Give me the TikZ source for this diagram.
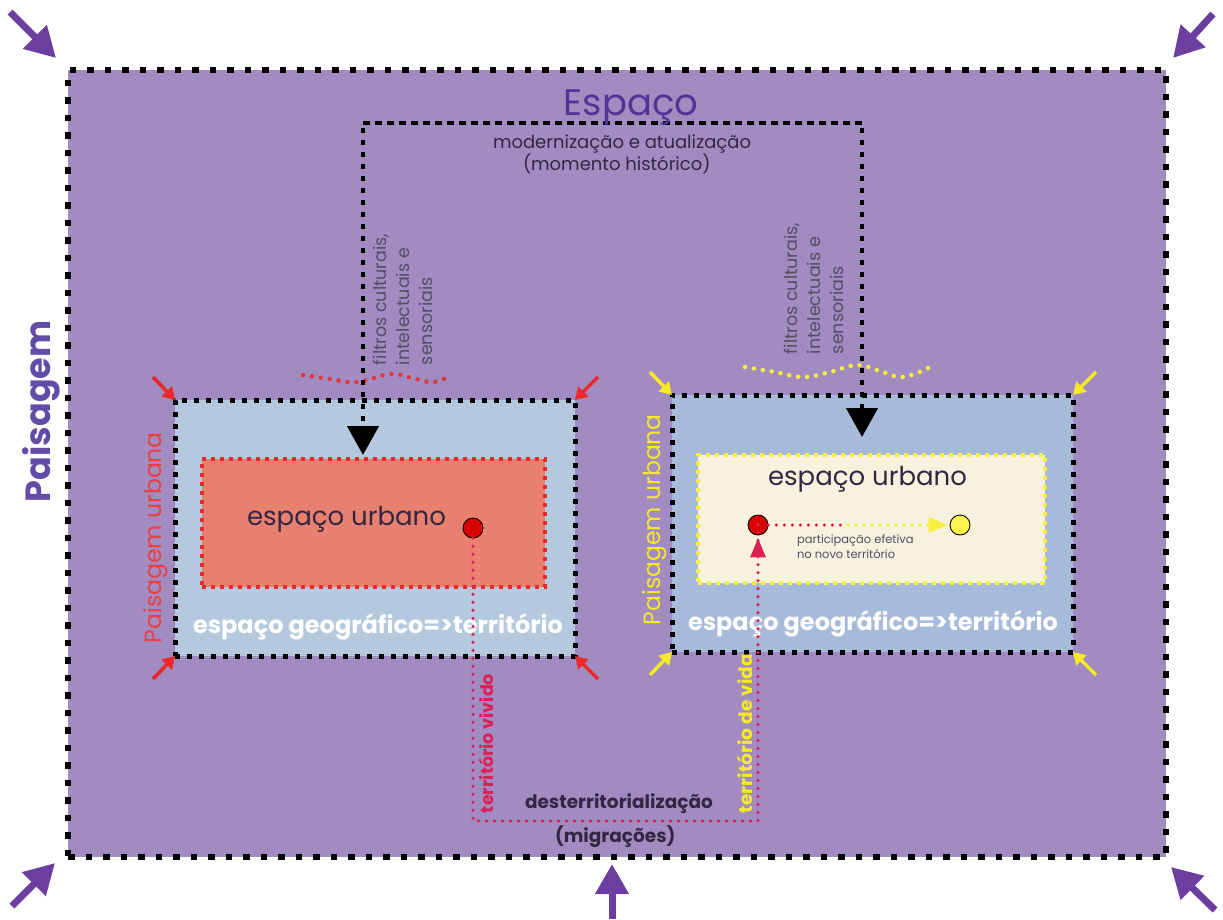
\documentclass[tikz,border=0pt]{standalone}
\usepackage{fontspec}
\setmainfont{Poppins}
\usetikzlibrary{arrows.meta}

\definecolor{spacefill}{RGB}{161,139,192}
\definecolor{arrowpurple}{RGB}{108,62,160}
\definecolor{titlepurple}{RGB}{82,52,150}
\definecolor{sidepurple}{RGB}{98,76,168}
\definecolor{lboxfill}{RGB}{180,200,222}
\definecolor{rboxfill}{RGB}{166,186,218}
\definecolor{salmon}{RGB}{232,128,112}
\definecolor{urbred}{RGB}{236,40,40}
\definecolor{cream}{RGB}{246,242,222}
\definecolor{urbyellow}{RGB}{250,240,60}
\definecolor{crimson}{RGB}{222,30,84}
\definecolor{labelred}{RGB}{236,64,64}
\definecolor{labelyellow}{RGB}{246,234,40}
\definecolor{darktext}{RGB}{52,38,66}
\definecolor{greytext}{RGB}{86,76,102}
\definecolor{dotred}{RGB}{228,52,60}
\definecolor{dotyellow}{RGB}{248,238,60}

\newcommand\fsz[2]{\fontsize{#1}{#2}\selectfont}

\begin{document}
\begin{tikzpicture}[x=1pt,y=-1pt,
  box/.style={rectangle,inner sep=0pt,outer sep=0pt},
  outerbox/.style={box,fill=spacefill,draw=black,line width=6.5pt,
    dash pattern=on 6.5pt off 11pt,minimum width=1098pt,minimum height=787pt},
  bluebox/.style={box,draw=black,line width=5pt,dash pattern=on 5pt off 7pt},
  redurbbox/.style={box,fill=salmon,draw=urbred,line width=4pt,dash pattern=on 4pt off 5pt},
  yelurbbox/.style={box,fill=cream,draw=urbyellow,line width=4pt,dash pattern=on 4pt off 5pt},
  connector/.style={draw=black,line width=4.5pt,dash pattern=on 4.5pt off 7.5pt,
    -{Triangle[length=29pt,width=31pt]}},
  route/.style={draw=crimson,line width=3.5pt,line cap=round,dash pattern=on 0pt off 8pt},
  yroute/.style={draw=dotyellow,line width=3.5pt,line cap=round,dash pattern=on 0pt off 8pt},
  wave/.style={line width=4.5pt,line cap=round,dash pattern=on 0pt off 9pt},
  bigarrow/.style={draw=arrowpurple,line width=7pt,-{Triangle[length=30pt,width=32pt]}},
  smallarrow/.style={line width=3.5pt,-{Triangle[length=12pt,width=14pt]}},
  dot/.style={circle,draw=black,line width=0.9pt,minimum size=20pt,inner sep=0pt},
  txt/.style={inner sep=0pt,outer sep=0pt}
]
\useasboundingbox (0,0) rectangle (1223,919);
\fill[white] (0,0) rectangle (1223,919);

% the whole space
\node[outerbox] (space) at (617,463.5) {};

% geographic space boxes and urban space boxes
\node[bluebox,fill=lboxfill,minimum width=400pt,minimum height=256pt] (lbox) at (375,528) {};
\node[redurbbox,minimum width=343pt,minimum height=128pt] (lurb) at (373.5,523) {};
\node[bluebox,fill=rboxfill,minimum width=401pt,minimum height=257pt] (rbox) at (872.5,523.5) {};
\node[yelurbbox,minimum width=347pt,minimum height=128pt] (rurb) at (871.5,519) {};

% wavy filters above the boxes
\draw[wave,draw=dotred] plot[smooth,tension=0.7] coordinates
  {(303,375) (330,379) (357,382) (390,374) (412,378) (433,382) (452,375)};
\draw[wave,draw=dotyellow] plot[smooth,tension=0.7] coordinates
  {(745,367) (775,372) (803,377) (830,372) (857,365) (880,371) (903,377) (930,367)};

% corner arrows of the whole space
\coordinate (tl) at (10,12);   \coordinate (tlt) at (56,58);
\coordinate (tr) at (1213,14); \coordinate (trt) at (1173,58);
\coordinate (bl) at (12,906);  \coordinate (blt) at (55,863);
\coordinate (br) at (1215,910);\coordinate (brt) at (1171,867);
\coordinate (bm) at (612,919); \coordinate (bmt) at (612,864);
\draw[bigarrow] (tl) -- (tlt);
\draw[bigarrow] (tr) -- (trt);
\draw[bigarrow] (bl) -- (blt);
\draw[bigarrow] (br) -- (brt);
\draw[bigarrow] (bm) -- (bmt);

% small corner arrows of the two boxes
\coordinate (la1) at (153,377); \coordinate (la2) at (598,377);
\coordinate (la3) at (153,679); \coordinate (la4) at (598,679);
\draw[smallarrow,draw=urbred] (la1) -- (lbox.north west);
\draw[smallarrow,draw=urbred] (la2) -- (lbox.north east);
\draw[smallarrow,draw=urbred] (la3) -- (lbox.south west);
\draw[smallarrow,draw=urbred] (la4) -- (lbox.south east);
\coordinate (ra1) at (650,372); \coordinate (ra2) at (1096,372);
\coordinate (ra3) at (650,675); \coordinate (ra4) at (1096,675);
\draw[smallarrow,draw=labelyellow] (ra1) -- (rbox.north west);
\draw[smallarrow,draw=labelyellow] (ra2) -- (rbox.north east);
\draw[smallarrow,draw=labelyellow] (ra3) -- (rbox.south west);
\draw[smallarrow,draw=labelyellow] (ra4) -- (rbox.south east);

% modernization connector
\coordinate (hl) at (363,123);
\coordinate (hr) at (862,123);
\coordinate (tipl) at (363,455);
\coordinate (tipr) at (862,437);
\draw[connector] (hr) -- (hl) -- (tipl);
\draw[connector] (hl) -- (hr) -- (tipr);

% titles
\node[txt,anchor=base,text=titlepurple,font=\fsz{37}{40}] (espaco) at (631,115) {Espaço};
\node[txt,anchor=base west,text=darktext,font=\fsz{18}{20}] (moder) at (493,148) {modernização e atualização};
\node[txt,anchor=base west,text=darktext,font=\fsz{18}{20}] (momento) at (523,170) {(momento histórico)};
\node[txt,anchor=base west,rotate=90,text=sidepurple,font=\bfseries\fsz{35}{38}] (paisagem) at (50,502) {Paisagem};

% filters
\node[txt,anchor=north west,rotate=90,align=left,text=greytext,font=\fsz{17.5}{23}] (filtl) at (373,365)
  {filtros culturais,\\intelectuais e\\sensoriais};
\node[txt,anchor=north west,rotate=90,align=left,text=greytext,font=\fsz{17.5}{23}] (filtr) at (784,354)
  {filtros culturais,\\intelectuais e\\sensoriais};

% box labels
\node[txt,anchor=base west,text=darktext,font=\fsz{26}{28}] (urbl) at (247,525) {espaço urbano};
\node[txt,anchor=base west,text=darktext,font=\fsz{26}{28}] (urbr) at (768,485) {espaço urbano};
\node[txt,anchor=base west,text=white,font=\bfseries\fsz{24}{26}] (geol) at (193,633) {espaço geográfico=>território};
\node[txt,anchor=base west,text=white,font=\bfseries\fsz{24}{26}] (geor) at (688,630) {espaço geográfico=>território};
\node[txt,anchor=base west,rotate=90,text=labelred,font=\fsz{23.5}{26}] (paisl) at (161,643) {Paisagem urbana};
\node[txt,anchor=base west,rotate=90,text=labelyellow,font=\fsz{23.5}{26}] (paisr) at (660,625) {Paisagem urbana};
\node[txt,anchor=base west,align=left,text=greytext,font=\fsz{11.5}{15}] (partic) at (797,558)
  {participação efetiva\\no novo território};

% migration labels
\node[txt,anchor=base west,text=darktext,font=\bfseries\fsz{18.5}{21}] (desterr) at (525,808) {desterritorialização};
\node[txt,anchor=base west,text=darktext,font=\bfseries\fsz{18.5}{21}] (migr) at (555,842) {(migrações)};
\node[txt,anchor=base west,rotate=90,text=crimson,font=\bfseries\fsz{17.5}{19}] (vivido) at (493,813) {território vivido};
\node[txt,anchor=base west,rotate=90,text=labelyellow,font=\bfseries\fsz{18.5}{20}] (devida) at (752,813) {território de vida};

% people: origin, arrival and new territory
\node[dot,fill=red!85!black] (origin) at (473,528) {};
\node[dot,fill=red!85!black] (arrival) at (758,525) {};
\node[dot,fill=yellow!70!white] (newplace) at (960,525) {};
\coordinate (rbl) at (473,821);
\coordinate (rbr) at (758,821);
\coordinate (midway) at (848,525);

% migration route
\draw[route] (origin.south) -- (rbl) -- (rbr) -- ([yshift=14pt]arrival.south);
\fill[crimson] (arrival.south) ++(0,3) -- ++(-8,19) -- ++(16,0) -- cycle;
\draw[route] (arrival.east) -- (midway);
\draw[yroute] (midway) -- ([xshift=-18pt]newplace.west);
\fill[dotyellow] (newplace.west) ++(-2,0) -- ++(-19,-8) -- ++(0,16) -- cycle;
\end{tikzpicture}
\end{document}
